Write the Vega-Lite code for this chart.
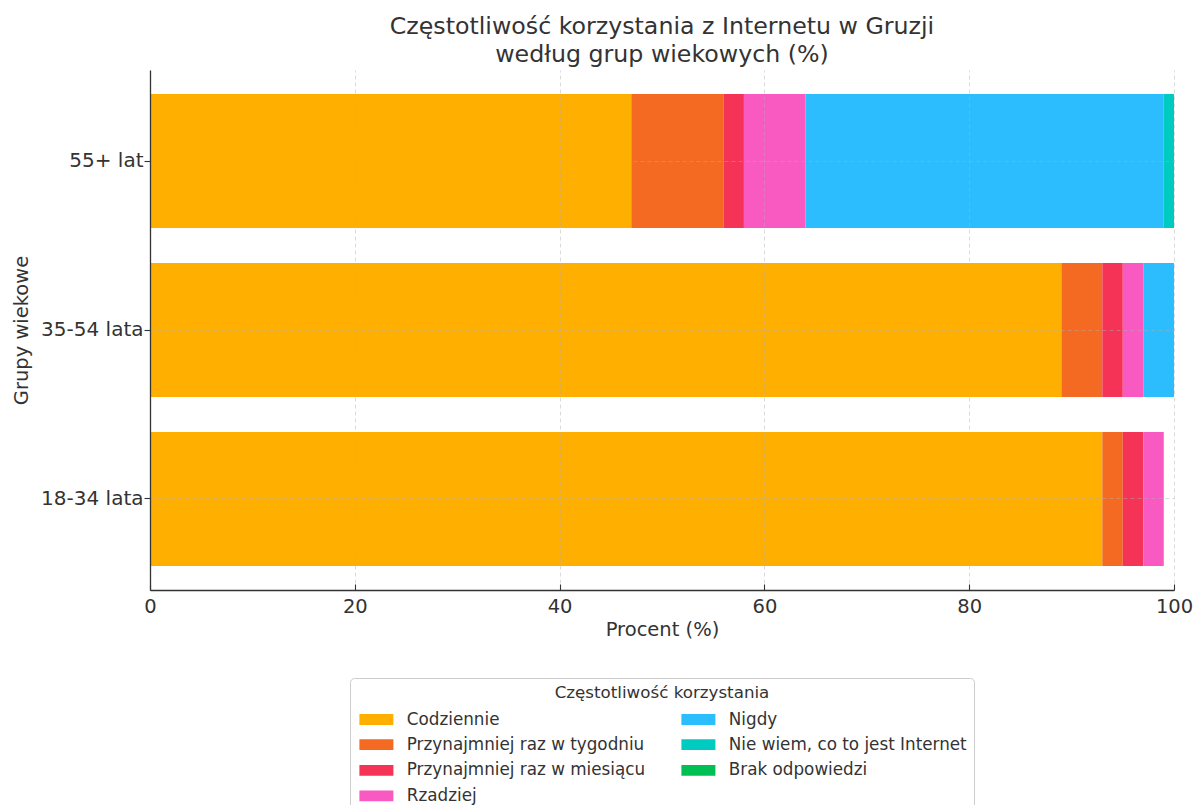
{
  "$schema": "https://vega.github.io/schema/vega-lite/v6.json",
  "width": 1024,
  "height": 520,
  "autosize": "none",
  "padding": {"left": 150, "top": 70, "right": 21, "bottom": 215},
  "background": "white",
  "title": {
    "text": ["Częstotliwość korzystania z Internetu w Gruzji", "według grup wiekowych (%)"],
    "fontSize": 23.7,
    "fontWeight": "normal",
    "color": "#333333",
    "anchor": "middle",
    "lineHeight": 28,
    "offset": 3
  },
  "data": {
    "values": [
      {"grupa": "55+ lat", "kategoria": "Codziennie", "procent": 47, "kolejnosc": 1},
      {"grupa": "55+ lat", "kategoria": "Przynajmniej raz w tygodniu", "procent": 9, "kolejnosc": 2},
      {"grupa": "55+ lat", "kategoria": "Przynajmniej raz w miesiącu", "procent": 2, "kolejnosc": 3},
      {"grupa": "55+ lat", "kategoria": "Rzadziej", "procent": 6, "kolejnosc": 4},
      {"grupa": "55+ lat", "kategoria": "Nigdy", "procent": 35, "kolejnosc": 5},
      {"grupa": "55+ lat", "kategoria": "Nie wiem, co to jest Internet", "procent": 1, "kolejnosc": 6},
      {"grupa": "55+ lat", "kategoria": "Brak odpowiedzi", "procent": 0, "kolejnosc": 7},
      {"grupa": "35-54 lata", "kategoria": "Codziennie", "procent": 89, "kolejnosc": 1},
      {"grupa": "35-54 lata", "kategoria": "Przynajmniej raz w tygodniu", "procent": 4, "kolejnosc": 2},
      {"grupa": "35-54 lata", "kategoria": "Przynajmniej raz w miesiącu", "procent": 2, "kolejnosc": 3},
      {"grupa": "35-54 lata", "kategoria": "Rzadziej", "procent": 2, "kolejnosc": 4},
      {"grupa": "35-54 lata", "kategoria": "Nigdy", "procent": 3, "kolejnosc": 5},
      {"grupa": "35-54 lata", "kategoria": "Nie wiem, co to jest Internet", "procent": 0, "kolejnosc": 6},
      {"grupa": "35-54 lata", "kategoria": "Brak odpowiedzi", "procent": 0, "kolejnosc": 7},
      {"grupa": "18-34 lata", "kategoria": "Codziennie", "procent": 93, "kolejnosc": 1},
      {"grupa": "18-34 lata", "kategoria": "Przynajmniej raz w tygodniu", "procent": 2, "kolejnosc": 2},
      {"grupa": "18-34 lata", "kategoria": "Przynajmniej raz w miesiącu", "procent": 2, "kolejnosc": 3},
      {"grupa": "18-34 lata", "kategoria": "Rzadziej", "procent": 2, "kolejnosc": 4},
      {"grupa": "18-34 lata", "kategoria": "Nigdy", "procent": 0, "kolejnosc": 5},
      {"grupa": "18-34 lata", "kategoria": "Nie wiem, co to jest Internet", "procent": 0, "kolejnosc": 6},
      {"grupa": "18-34 lata", "kategoria": "Brak odpowiedzi", "procent": 0, "kolejnosc": 7}
    ]
  },
  "mark": {"type": "bar"},
  "encoding": {
    "y": {
      "field": "grupa",
      "type": "nominal",
      "sort": ["55+ lat", "35-54 lata", "18-34 lata"],
      "scale": {"paddingInner": 0.207, "paddingOuter": 0.142},
      "axis": {
        "title": "Grupy wiekowe",
        "bandPosition": 0.5,
        "labelAngle": 0,
        "labelFontSize": 20,
        "titleFontSize": 19.5,
        "titleFontWeight": "normal",
        "titlePadding": 9,
        "labelPadding": 1,
        "tickSize": 6,
        "grid": true,
        "zindex": 1
      }
    },
    "x": {
      "field": "procent",
      "type": "quantitative",
      "stack": "zero",
      "scale": {"domain": [0, 100], "nice": false, "zero": true},
      "axis": {
        "title": "Procent (%)",
        "values": [0, 20, 40, 60, 80, 100],
        "format": "d",
        "labelFontSize": 19.5,
        "titleFontSize": 19.5,
        "titleFontWeight": "normal",
        "titlePadding": 5,
        "tickSize": -6,
        "labelPadding": 13,
        "labelFlush": false,
        "grid": true,
        "zindex": 1
      }
    },
    "order": {"field": "kolejnosc", "type": "quantitative"},
    "color": {
      "field": "kategoria",
      "type": "nominal",
      "scale": {
        "domain": ["Codziennie", "Nigdy", "Przynajmniej raz w tygodniu", "Nie wiem, co to jest Internet", "Przynajmniej raz w miesiącu", "Brak odpowiedzi", "Rzadziej"],
        "range": ["#FFAF00", "#2CBDFE", "#F46A22", "#00CBC0", "#F43356", "#00BF55", "#F85AC1"]
      },
      "legend": {
        "title": "Częstotliwość korzystania",
        "orient": "none",
        "legendX": 200,
        "legendY": 608,
        "columns": 2,
        "direction": "horizontal"
      }
    }
  },
  "config": {
    "font": "DejaVu Sans",
    "view": {"stroke": null},
    "axis": {
      "domainColor": "#333333",
      "domainWidth": 1.3,
      "tickColor": "#333333",
      "tickWidth": 1.1,
      "labelColor": "#333333",
      "titleColor": "#333333",
      "gridColor": "#b0b0b0",
      "gridOpacity": 0.5,
      "gridDash": [4, 3],
      "gridWidth": 0.9
    },
    "legend": {
      "titleFontSize": 16.7,
      "titleFontWeight": "normal",
      "titleColor": "#333333",
      "titleAnchor": "middle",
      "titleLimit": 600,
      "titlePadding": 9,
      "labelFontSize": 16.8,
      "labelColor": "#333333",
      "labelLimit": 400,
      "labelOffset": 33,
      "symbolType": "M-1,-0.9H4.667V0.9H-1Z",
      "symbolSize": 144,
      "symbolStrokeWidth": 0,
      "symbolOpacity": 1,
      "rowPadding": 7.6,
      "columnPadding": 33,
      "padding": 7,
      "strokeColor": "#cccccc",
      "cornerRadius": 4,
      "fillColor": "white"
    }
  }
}
